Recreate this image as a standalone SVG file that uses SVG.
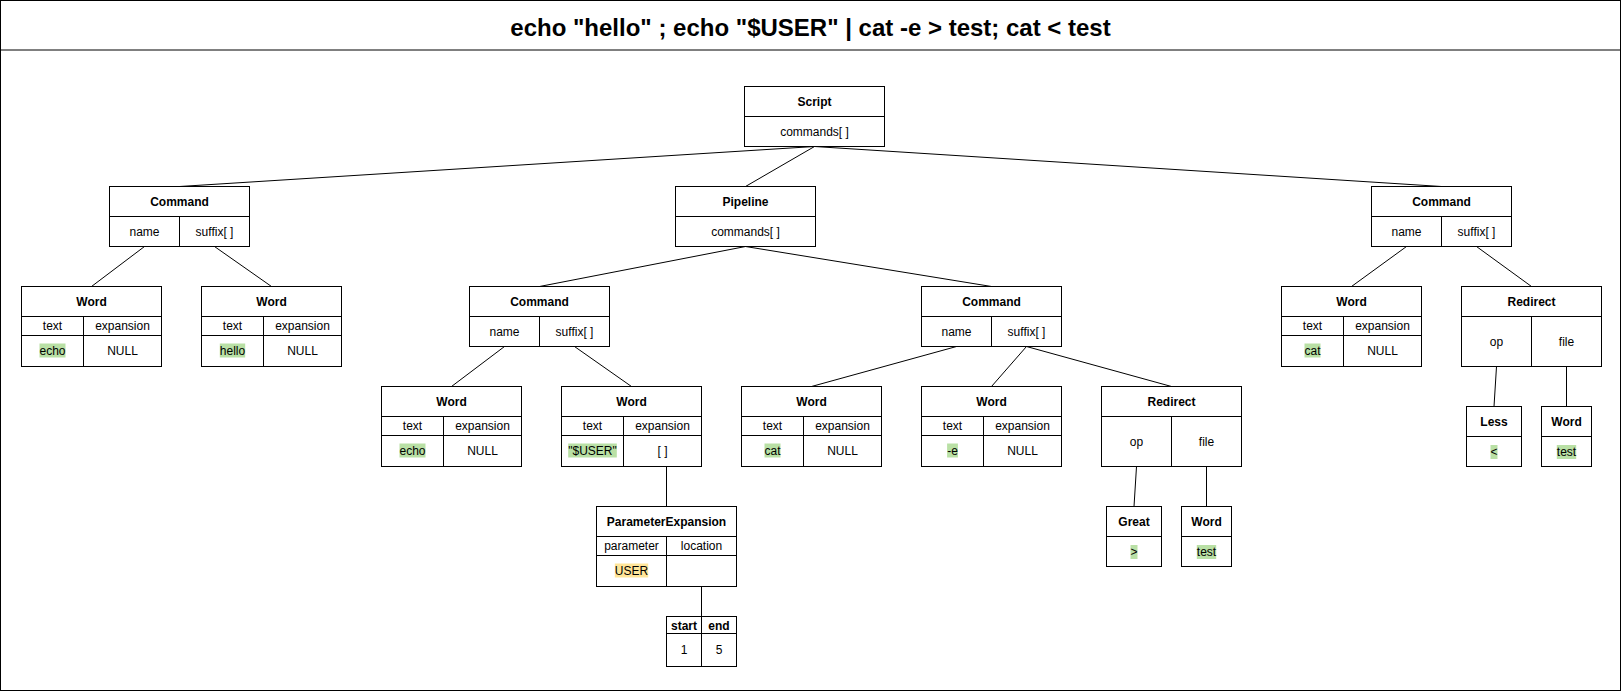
<svg xmlns="http://www.w3.org/2000/svg" width="1621" height="691" viewBox="0 0 1621 691">
<style>
.box{fill:#fff;stroke:#000;stroke-width:1}
.ln{stroke:#000;stroke-width:1;fill:none}
text{font-family:"Liberation Sans",Arial,sans-serif;font-size:12px;fill:#000;text-anchor:middle}
.b{font-weight:bold}
.title{font-size:24px;font-weight:bold}
.hg{fill:#b9e0a5}
.hy{fill:#ffe599}
</style>
<rect x="0" y="0" width="1621" height="691" fill="#fff"/>
<g id="frame">
<rect x="0.5" y="0.5" width="1620" height="690" class="box"/>
<line x1="0" y1="50" x2="1621" y2="50" class="ln"/>
<text x="810.5" y="36" class="title">echo "hello" ; echo "$USER" | cat -e &gt; test; cat &lt; test</text>
</g>
<g id="connectors">
<line x1="814.5" y1="146.5" x2="179.5" y2="186.5" class="ln"/>
<line x1="814.5" y1="146.5" x2="745.5" y2="186.5" class="ln"/>
<line x1="814.5" y1="146.5" x2="1441.5" y2="186.5" class="ln"/>
<line x1="144.5" y1="246.5" x2="91.5" y2="286.5" class="ln"/>
<line x1="214.5" y1="246.5" x2="271.5" y2="286.5" class="ln"/>
<line x1="745.5" y1="246.5" x2="539.5" y2="286.5" class="ln"/>
<line x1="745.5" y1="246.5" x2="991.5" y2="286.5" class="ln"/>
<line x1="504.5" y1="346.5" x2="451.5" y2="386.5" class="ln"/>
<line x1="574.5" y1="346.5" x2="631.5" y2="386.5" class="ln"/>
<line x1="956.5" y1="346.5" x2="811.5" y2="386.5" class="ln"/>
<line x1="1026.5" y1="346.5" x2="991.5" y2="386.5" class="ln"/>
<line x1="1026.5" y1="346.5" x2="1171.5" y2="386.5" class="ln"/>
<line x1="1406.5" y1="246.5" x2="1351.5" y2="286.5" class="ln"/>
<line x1="1476.5" y1="246.5" x2="1531.5" y2="286.5" class="ln"/>
<line x1="666.5" y1="466.5" x2="666.5" y2="506.5" class="ln"/>
<line x1="701.5" y1="586.5" x2="701.5" y2="616.5" class="ln"/>
<line x1="1136.5" y1="466.5" x2="1134" y2="506.5" class="ln"/>
<line x1="1206.5" y1="466.5" x2="1206.5" y2="506.5" class="ln"/>
<line x1="1496.5" y1="366.5" x2="1494" y2="406.5" class="ln"/>
<line x1="1566.5" y1="366.5" x2="1566.5" y2="406.5" class="ln"/>
</g>
<g id="script">
<rect x="744.5" y="86.5" width="140" height="60" class="box"/>
<line x1="744.5" y1="116.5" x2="884.5" y2="116.5" class="ln"/>
<text x="814.5" y="106" class="b">Script</text>
<text x="814.5" y="136">commands[ ]</text>
</g>
<g id="command1">
<rect x="109.5" y="186.5" width="140" height="60" class="box"/>
<line x1="109.5" y1="216.5" x2="249.5" y2="216.5" class="ln"/>
<line x1="179.5" y1="216.5" x2="179.5" y2="246.5" class="ln"/>
<text x="179.5" y="206" class="b">Command</text>
<text x="144.5" y="236">name</text>
<text x="214.5" y="236">suffix[ ]</text>
</g>
<g id="pipeline">
<rect x="675.5" y="186.5" width="140" height="60" class="box"/>
<line x1="675.5" y1="216.5" x2="815.5" y2="216.5" class="ln"/>
<text x="745.5" y="206" class="b">Pipeline</text>
<text x="745.5" y="236">commands[ ]</text>
</g>
<g id="command4">
<rect x="1371.5" y="186.5" width="140" height="60" class="box"/>
<line x1="1371.5" y1="216.5" x2="1511.5" y2="216.5" class="ln"/>
<line x1="1441.5" y1="216.5" x2="1441.5" y2="246.5" class="ln"/>
<text x="1441.5" y="206" class="b">Command</text>
<text x="1406.5" y="236">name</text>
<text x="1476.5" y="236">suffix[ ]</text>
</g>
<g id="command2">
<rect x="469.5" y="286.5" width="140" height="60" class="box"/>
<line x1="469.5" y1="316.5" x2="609.5" y2="316.5" class="ln"/>
<line x1="539.5" y1="316.5" x2="539.5" y2="346.5" class="ln"/>
<text x="539.5" y="306" class="b">Command</text>
<text x="504.5" y="336">name</text>
<text x="574.5" y="336">suffix[ ]</text>
</g>
<g id="command3">
<rect x="921.5" y="286.5" width="140" height="60" class="box"/>
<line x1="921.5" y1="316.5" x2="1061.5" y2="316.5" class="ln"/>
<line x1="991.5" y1="316.5" x2="991.5" y2="346.5" class="ln"/>
<text x="991.5" y="306" class="b">Command</text>
<text x="956.5" y="336">name</text>
<text x="1026.5" y="336">suffix[ ]</text>
</g>
<g id="word1">
<rect x="21.5" y="286.5" width="140" height="80" class="box"/>
<line x1="21.5" y1="316.5" x2="161.5" y2="316.5" class="ln"/>
<line x1="21.5" y1="335.5" x2="161.5" y2="335.5" class="ln"/>
<line x1="83.5" y1="316.5" x2="83.5" y2="366.5" class="ln"/>
<text x="91.5" y="306" class="b">Word</text>
<text x="52.5" y="330">text</text>
<text x="122.5" y="330">expansion</text>
<rect x="39.5" y="343.5" width="26" height="14" class="hg"/>
<text x="52.5" y="354.5">echo</text>
<text x="122.5" y="354.5">NULL</text>
</g>
<g id="word2">
<rect x="201.5" y="286.5" width="140" height="80" class="box"/>
<line x1="201.5" y1="316.5" x2="341.5" y2="316.5" class="ln"/>
<line x1="201.5" y1="335.5" x2="341.5" y2="335.5" class="ln"/>
<line x1="263.5" y1="316.5" x2="263.5" y2="366.5" class="ln"/>
<text x="271.5" y="306" class="b">Word</text>
<text x="232.5" y="330">text</text>
<text x="302.5" y="330">expansion</text>
<rect x="219.8" y="343.5" width="25.4" height="14" class="hg"/>
<text x="232.5" y="354.5">hello</text>
<text x="302.5" y="354.5">NULL</text>
</g>
<g id="word7">
<rect x="1281.5" y="286.5" width="140" height="80" class="box"/>
<line x1="1281.5" y1="316.5" x2="1421.5" y2="316.5" class="ln"/>
<line x1="1281.5" y1="335.5" x2="1421.5" y2="335.5" class="ln"/>
<line x1="1343.5" y1="316.5" x2="1343.5" y2="366.5" class="ln"/>
<text x="1351.5" y="306" class="b">Word</text>
<text x="1312.5" y="330">text</text>
<text x="1382.5" y="330">expansion</text>
<rect x="1304.5" y="343.5" width="16" height="14" class="hg"/>
<text x="1312.5" y="354.5">cat</text>
<text x="1382.5" y="354.5">NULL</text>
</g>
<g id="redirect2">
<rect x="1461.5" y="286.5" width="140" height="80" class="box"/>
<line x1="1461.5" y1="316.5" x2="1601.5" y2="316.5" class="ln"/>
<line x1="1531.5" y1="316.5" x2="1531.5" y2="366.5" class="ln"/>
<text x="1531.5" y="306" class="b">Redirect</text>
<text x="1496.5" y="346">op</text>
<text x="1566.5" y="346">file</text>
</g>
<g id="word3">
<rect x="381.5" y="386.5" width="140" height="80" class="box"/>
<line x1="381.5" y1="416.5" x2="521.5" y2="416.5" class="ln"/>
<line x1="381.5" y1="435.5" x2="521.5" y2="435.5" class="ln"/>
<line x1="443.5" y1="416.5" x2="443.5" y2="466.5" class="ln"/>
<text x="451.5" y="406" class="b">Word</text>
<text x="412.5" y="430">text</text>
<text x="482.5" y="430">expansion</text>
<rect x="399.5" y="443.5" width="26" height="14" class="hg"/>
<text x="412.5" y="454.5">echo</text>
<text x="482.5" y="454.5">NULL</text>
</g>
<g id="word4">
<rect x="561.5" y="386.5" width="140" height="80" class="box"/>
<line x1="561.5" y1="416.5" x2="701.5" y2="416.5" class="ln"/>
<line x1="561.5" y1="435.5" x2="701.5" y2="435.5" class="ln"/>
<line x1="623.5" y1="416.5" x2="623.5" y2="466.5" class="ln"/>
<text x="631.5" y="406" class="b">Word</text>
<text x="592.5" y="430">text</text>
<text x="662.5" y="430">expansion</text>
<rect x="568.2" y="443.5" width="48.6" height="14" class="hg"/>
<text x="592.5" y="454.5">"$USER"</text>
<text x="662.5" y="454.5">[ ]</text>
</g>
<g id="word5">
<rect x="741.5" y="386.5" width="140" height="80" class="box"/>
<line x1="741.5" y1="416.5" x2="881.5" y2="416.5" class="ln"/>
<line x1="741.5" y1="435.5" x2="881.5" y2="435.5" class="ln"/>
<line x1="803.5" y1="416.5" x2="803.5" y2="466.5" class="ln"/>
<text x="811.5" y="406" class="b">Word</text>
<text x="772.5" y="430">text</text>
<text x="842.5" y="430">expansion</text>
<rect x="764.5" y="443.5" width="16" height="14" class="hg"/>
<text x="772.5" y="454.5">cat</text>
<text x="842.5" y="454.5">NULL</text>
</g>
<g id="word6">
<rect x="921.5" y="386.5" width="140" height="80" class="box"/>
<line x1="921.5" y1="416.5" x2="1061.5" y2="416.5" class="ln"/>
<line x1="921.5" y1="435.5" x2="1061.5" y2="435.5" class="ln"/>
<line x1="983.5" y1="416.5" x2="983.5" y2="466.5" class="ln"/>
<text x="991.5" y="406" class="b">Word</text>
<text x="952.5" y="430">text</text>
<text x="1022.5" y="430">expansion</text>
<rect x="947.1" y="443.5" width="10.8" height="14" class="hg"/>
<text x="952.5" y="454.5">-e</text>
<text x="1022.5" y="454.5">NULL</text>
</g>
<g id="redirect1">
<rect x="1101.5" y="386.5" width="140" height="80" class="box"/>
<line x1="1101.5" y1="416.5" x2="1241.5" y2="416.5" class="ln"/>
<line x1="1171.5" y1="416.5" x2="1171.5" y2="466.5" class="ln"/>
<text x="1171.5" y="406" class="b">Redirect</text>
<text x="1136.5" y="446">op</text>
<text x="1206.5" y="446">file</text>
</g>
<g id="less">
<rect x="1466.5" y="406.5" width="55" height="60" class="box"/>
<line x1="1466.5" y1="436.5" x2="1521.5" y2="436.5" class="ln"/>
<text x="1494" y="426" class="b">Less</text>
<rect x="1490.5" y="445" width="7" height="14" class="hg"/>
<text x="1494" y="456">&lt;</text>
</g>
<g id="word9">
<rect x="1541.5" y="406.5" width="50" height="60" class="box"/>
<line x1="1541.5" y1="436.5" x2="1591.5" y2="436.5" class="ln"/>
<text x="1566.5" y="426" class="b">Word</text>
<rect x="1556.8" y="445" width="19.4" height="14" class="hg"/>
<text x="1566.5" y="456">test</text>
</g>
<g id="paramexp">
<rect x="596.5" y="506.5" width="140" height="80" class="box"/>
<line x1="596.5" y1="536.5" x2="736.5" y2="536.5" class="ln"/>
<line x1="596.5" y1="555.5" x2="736.5" y2="555.5" class="ln"/>
<line x1="666.5" y1="536.5" x2="666.5" y2="586.5" class="ln"/>
<text x="666.5" y="526" class="b">ParameterExpansion</text>
<text x="631.5" y="550">parameter</text>
<text x="701.5" y="550">location</text>
<rect x="614.8" y="563.5" width="33.4" height="14" class="hy"/>
<text x="631.5" y="574.5">USER</text>
</g>
<g id="great">
<rect x="1106.5" y="506.5" width="55" height="60" class="box"/>
<line x1="1106.5" y1="536.5" x2="1161.5" y2="536.5" class="ln"/>
<text x="1134" y="526" class="b">Great</text>
<rect x="1130.5" y="545" width="7" height="14" class="hg"/>
<text x="1134" y="556">&gt;</text>
</g>
<g id="word8">
<rect x="1181.5" y="506.5" width="50" height="60" class="box"/>
<line x1="1181.5" y1="536.5" x2="1231.5" y2="536.5" class="ln"/>
<text x="1206.5" y="526" class="b">Word</text>
<rect x="1196.8" y="545" width="19.4" height="14" class="hg"/>
<text x="1206.5" y="556">test</text>
</g>
<g id="location">
<rect x="666.5" y="616.5" width="70" height="50" class="box"/>
<line x1="666.5" y1="633.5" x2="736.5" y2="633.5" class="ln"/>
<line x1="701.5" y1="616.5" x2="701.5" y2="666.5" class="ln"/>
<text x="684" y="629.5" class="b">start</text>
<text x="719" y="629.5" class="b">end</text>
<text x="684" y="654">1</text>
<text x="719" y="654">5</text>
</g>
</svg>
